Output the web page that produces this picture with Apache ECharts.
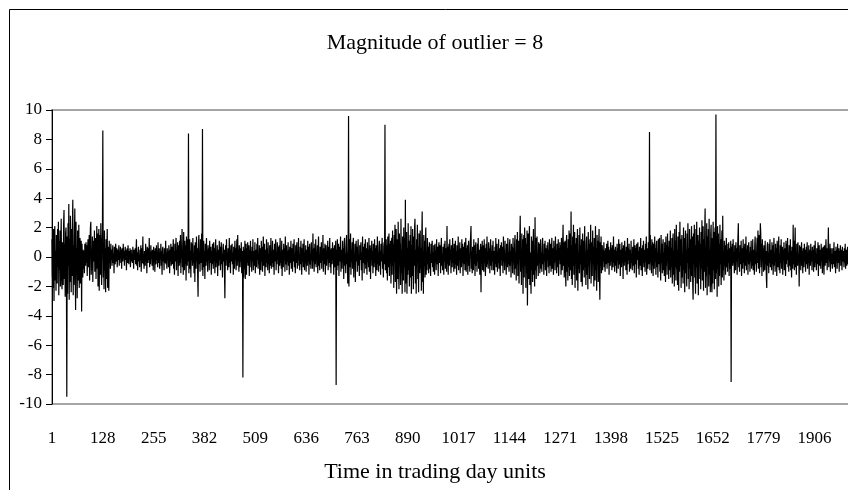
<!DOCTYPE html>
<html><head><meta charset="utf-8">
<script src="https://cdn.jsdelivr.net/npm/echarts@6/dist/echarts.min.js"></script>
<style>html,body{margin:0;padding:0;background:#fff;overflow:hidden;width:848px;height:490px}#c{width:880px;height:490px}</style>
</head><body><div id="c"></div>
<script>
const chartTitle = "Magnitude of outlier = 8";
const xAxisTitle = "Time in trading day units";
const yTicks = [-10, -8, -6, -4, -2, 0, 2, 4, 6, 8, 10];
const labelStep = 127;
const categoryCount = 2010;
const seriesValues = [
1.2,-1.4,0.6,-2.1,1.9,-3.0,0.8,2.1,-1.6,0.4, -2.3,1.5,0.2,-1.8,1.9,-0.7,2.4,-2.6,1.1,-0.9, 1.8,-2.0,0.5,2.6,-1.4,-2.2,1.0,0.7,-1.9,2.2, 3.2,-1.5,0.9,-2.7,1.6,2.0,-1.1,-9.5,1.4,-2.5, 2.3,-0.6,3.6,-2.9,1.2,-1.7,2.8,0.3,-2.4,1.9,
-1.3,2.1,3.9,-2.6,0.8,-1.9,1.5,3.3,-0.9,-3.6, 2.4,-1.2,0.6,-2.8,1.8,-0.4,-1.6,2.2,-2.1,0.7, 1.3,-1.8,-0.5,1.1,-3.7,0.9,-0.3,-1.4,0.5,-0.8, 0.4,-1.1,0.9,0.2,-0.6,1.0,-0.4,0.8,-1.3,0.6, 1.2,-0.7,0.3,1.5,-1.6,0.9,2.0,2.4,-1.2,0.5,
-0.9,1.4,-1.7,0.6,1.1,-0.3,1.8,-1.0,0.4,1.3, -1.5,0.7,2.1,-0.8,1.6,-2.0,0.5,1.9,-2.3,0.8, 1.5,-1.2,2.3,-0.6,-1.9,0.9,1.7,8.6,-1.4,0.3, -2.2,1.8,-0.9,0.6,-2.4,1.2,-1.5,0.4,1.9,-2.1, 0.7,-1.3,-2.3,1.1,-0.4,0.6,-0.8,0.9,-0.2,0.5,
-0.6,0.3,0.8,-0.4,0.2,-1.1,0.7,0.1,-0.5,0.9, 0.4,-0.3,0.6,-0.7,0.2,0.5,-0.2,0.8,-0.6,0.3, 0.1,0.7,-0.4,0.5,-0.8,0.6,0.2,-0.3,0.9,-0.1, 0.4,-0.6,0.3,0.7,-0.2,0.5,-0.9,0.1,0.6,-0.4, 0.8,0.2,-0.5,0.4,-0.1,0.6,-0.7,0.3,0.5,-0.3,
0.2,-0.4,0.7,0.1,-0.8,0.5,0.3,-0.2,0.6,-0.5, 0.4,1.2,-0.6,0.3,-0.9,0.2,0.7,-0.3,0.1,-0.7, 0.5,-0.2,0.8,-1.0,0.3,0.6,-0.4,1.4,-0.5,0.2, -0.8,0.4,0.1,-0.6,0.9,-0.3,0.5,-1.1,0.7,0.2, -0.4,0.6,-0.2,1.3,-0.7,0.3,-0.5,0.8,-0.1,0.4,
-0.6,0.5,0.2,-0.9,0.7,-0.3,0.4,-1.0,0.6,0.1, -0.5,0.8,-0.2,0.3,-0.7,1.0,-0.4,0.2,0.6,-0.8, 0.3,-0.1,0.9,-0.6,0.4,-1.2,0.5,0.7,-0.3,0.2, -0.9,0.6,0.1,-0.4,1.1,-0.5,0.3,-0.8,0.6,-0.2, 0.4,-0.7,0.8,0.2,-1.1,0.5,-0.3,0.9,-0.6,0.3,
0.7,-0.5,0.2,1.2,-0.8,0.4,-1.2,0.9,-0.3,0.6, 1.3,-0.9,0.5,-0.2,1.0,-1.3,0.3,0.8,-0.6,1.1, -0.4,1.5,-1.1,0.6,0.2,1.9,-0.7,0.4,-1.2,1.7, 0.3,-0.9,1.1,-0.5,0.8,-1.6,1.4,0.2,-0.6,1.2, -0.3,8.4,-1.1,0.6,1.2,-0.8,0.4,-1.4,1.0,-0.2,
0.9,-0.6,1.3,-0.4,0.2,-1.1,0.8,-1.7,1.0,0.5, -0.8,1.4,-0.3,0.6,-1.2,-2.7,0.9,1.5,-0.5,0.3, -1.0,1.2,-0.4,0.7,1.6,-0.9,8.7,-1.3,0.6,1.1, -0.7,0.4,-1.5,0.9,0.2,-0.6,1.3,-0.3,0.5,-1.0, 0.8,-0.2,0.6,-0.9,1.1,-0.4,0.3,0.7,-1.2,0.4,
-0.5,0.9,0.2,-0.8,1.0,-0.3,0.6,-1.1,0.4,1.2, -0.7,0.3,-0.4,0.8,-1.3,0.5,0.1,-0.6,1.1,-0.2, 0.7,-0.9,0.4,1.0,-0.5,0.2,-1.4,0.6,0.9,-0.3, 0.5,-1.0,-2.8,0.4,0.8,-0.6,1.2,-0.2,0.3,-0.9, 0.6,0.1,-0.7,1.3,-0.4,0.5,-1.1,0.8,-0.3,0.2,
0.9,-0.5,0.3,-1.2,0.7,0.4,-0.8,1.1,-0.2,0.6, -0.9,0.3,1.2,-0.6,1.5,-0.3,0.5,-1.0,0.8,0.2, -0.7,0.6,-0.3,1.0,-1.1,0.4,0.2,-8.2,0.7,-1.4, 0.5,-0.8,1.1,-1.5,0.3,0.9,-1.2,0.6,-0.4,1.0, -0.6,0.2,0.8,-1.3,0.5,-0.2,1.1,-0.7,0.4,-1.0,
0.7,-0.3,1.2,-0.9,0.4,0.1,-0.6,1.0,-1.1,0.5, 0.3,-0.7,0.9,-0.2,1.3,-0.8,0.2,-0.5,0.8,-1.2, 0.6,0.4,-0.9,1.1,-0.3,0.7,-1.0,0.2,1.4,-0.6, -0.2,0.9,-1.3,0.5,0.3,-0.7,1.2,-0.4,0.6,-0.9, 1.0,-0.5,0.2,-1.1,0.8,0.4,-0.6,1.3,-0.8,0.1,
-0.4,1.1,-0.7,0.5,0.2,-1.2,0.9,-0.3,0.6,1.2, -0.9,0.3,-0.5,1.0,-0.2,0.7,-1.1,0.4,0.8,-0.6, 1.3,-0.4,0.2,-0.8,1.1,-1.3,0.5,0.3,-0.7,0.9, -0.2,0.6,-1.0,1.4,-0.5,0.1,0.8,-0.9,0.4,-0.3, 1.0,-0.6,0.5,-1.2,0.7,0.3,-0.4,1.1,-0.8,0.2,
0.6,-1.0,0.9,-0.3,0.4,1.2,-0.7,0.2,-1.1,0.8, -0.4,0.5,1.0,-0.8,0.3,-0.2,1.3,-0.6,0.1,-0.9, 0.7,-0.5,1.1,0.2,-1.2,0.6,-0.3,0.9,-0.7,0.4, 1.2,-0.9,0.3,-0.4,0.8,-1.0,0.5,0.2,-0.6,1.1, -0.3,0.7,-1.2,0.4,0.9,-0.5,0.1,-0.8,1.0,-0.2,
0.5,-0.8,1.6,-0.3,0.6,-1.0,0.2,0.9,-0.5,1.2, -0.7,0.3,-0.2,0.8,-1.1,0.4,1.4,-0.6,0.1,-0.9, 0.7,0.3,-0.4,1.0,-0.8,0.5,-0.2,1.5,-1.0,0.2, 0.6,-0.5,0.9,-1.2,0.3,0.8,-0.6,0.4,-0.1,1.1, -0.9,0.2,0.7,-0.4,1.3,-0.7,0.5,-1.1,0.6,0.3,
-0.5,1.0,-0.2,0.6,-1.2,0.4,0.8,-0.7,0.3,1.1, -8.7,0.5,-0.9,1.2,0.2,-0.6,0.9,-1.3,0.4,0.7, -0.3,1.4,-1.0,0.5,0.1,-0.8,1.1,-0.4,0.6,-1.5, 0.9,1.3,-0.6,0.2,-1.1,0.7,1.5,-0.5,0.3,-1.8, 0.8,9.6,-2.0,1.2,-0.7,0.4,1.6,-1.2,0.5,-0.3,
1.0,-0.8,0.6,1.3,-1.4,0.2,-0.5,0.9,-1.7,0.4, 1.1,-0.3,0.7,-1.0,0.5,1.2,-0.6,0.1,-1.3,0.8, -0.2,0.6,1.0,-0.9,0.3,-1.6,1.4,-0.4,0.7,0.2, -1.1,0.9,-0.5,1.2,-0.8,0.4,0.6,-1.2,1.0,-0.3, 0.5,-0.7,1.3,-1.0,0.2,0.8,-1.5,0.6,-0.1,1.1,
-0.6,0.4,-1.1,0.9,0.3,-0.7,1.2,-0.4,0.6,-1.3, 0.8,0.2,-0.9,1.4,-0.5,0.3,-1.0,0.7,1.1,-0.6, 0.4,-1.2,0.9,-0.3,0.6,1.3,-0.8,0.2,-1.4,0.7, 1.0,-0.5,9.0,-0.9,0.5,1.2,-1.1,0.8,-1.6,1.4, -0.7,0.4,1.6,-1.3,0.9,-0.4,1.1,-1.8,0.6,1.3,
-1.2,1.8,-0.6,0.9,-2.1,1.5,-0.3,2.2,-1.7,0.7, 1.9,-2.5,0.4,1.2,-1.5,2.4,-0.8,-2.2,1.6,-0.4, 0.9,-1.9,2.6,-1.1,0.5,-2.5,1.4,0.2,-1.6,2.0, -0.7,1.3,-2.4,3.9,-1.8,0.8,1.7,-2.5,0.6,-1.2, 2.3,-0.9,1.1,-2.0,0.4,1.5,-1.4,2.1,-2.5,0.8,
-1.3,1.9,0.3,-2.2,1.4,-0.6,2.0,2.6,-1.8,0.5, -2.5,1.2,-0.4,2.2,-1.5,0.7,-2.4,1.6,0.2,-1.1, 1.8,-0.8,0.6,-2.3,1.3,3.1,-1.7,0.4,-2.5,1.5, -0.6,1.1,-1.4,0.8,2.0,-1.2,0.3,-0.9,1.3,-0.5, 0.7,-1.1,0.4,1.0,-0.8,0.2,-1.3,0.9,-0.4,0.6,
1.1,-0.7,0.3,-1.0,0.8,0.5,-1.2,0.9,-0.3,0.4, -0.9,1.2,-0.5,0.2,0.7,-1.3,0.6,1.0,-0.4,0.1, 0.8,-1.1,0.5,1.3,-0.6,0.2,-0.9,0.7,0.4,-1.2, 0.9,-0.3,1.1,-0.8,0.3,0.6,-1.0,2.1,-0.5,0.7, -1.2,0.4,0.9,-0.6,1.2,-0.2,0.5,-1.1,0.8,0.3,
-0.7,1.3,-0.4,0.6,-1.0,0.9,0.2,-0.8,1.1,-0.5, 0.4,-1.2,0.8,0.3,-0.6,1.4,-0.9,0.5,-0.2,1.0, -1.1,0.6,0.2,-0.7,1.2,-0.4,0.9,-1.3,0.3,0.7, -0.5,1.0,-0.9,0.4,1.3,-1.0,0.6,-0.3,0.8,-1.2, 0.5,1.1,-0.6,0.2,-1.0,0.9,1.4,2.1,-0.8,0.4,
-1.1,0.7,0.3,-0.9,1.2,-0.5,0.8,-1.3,0.4,1.0, -0.6,0.2,-1.0,0.9,-0.3,1.3,-0.8,0.5,0.6,-1.2, 0.4,0.9,-2.4,0.7,-0.5,1.1,-0.9,0.3,0.8,-1.0, 1.2,-0.4,0.6,-1.3,0.2,0.9,-0.7,1.4,-0.5,0.3, -0.8,1.0,-0.2,0.6,-1.1,0.5,1.2,-0.6,0.4,-0.9,
0.8,-0.3,1.1,-0.9,0.4,0.2,-1.2,0.7,-0.5,1.3, -0.7,0.5,0.9,-1.0,0.3,-0.4,1.2,-0.8,0.6,0.1, -1.3,0.8,-0.2,1.0,-0.6,0.4,0.7,-1.1,1.4,-0.3, 0.5,-0.9,1.1,-0.4,0.2,-1.2,0.9,0.6,-0.7,1.3, -0.5,0.3,-1.0,0.8,1.2,-0.6,0.4,-1.4,0.9,-0.2,
0.7,-1.1,1.3,-0.4,0.6,-1.2,0.9,1.5,-0.8,0.3, -1.6,1.2,-0.5,1.7,-1.3,0.4,1.1,-1.8,0.6,1.4, 2.8,-1.0,0.5,-1.9,1.6,-0.7,1.2,-2.5,0.8,1.5, -1.4,2.0,-0.6,1.3,-2.1,0.9,-1.1,1.8,-3.3,0.4, 1.6,-1.5,0.7,2.1,-1.9,0.3,-0.8,-2.5,1.4,-0.9,
1.1,-1.7,0.6,1.9,-1.2,0.4,-2.0,2.7,-0.9,1.3, -1.5,0.8,1.4,-0.6,0.2,-1.3,1.0,-0.4,0.9,-1.1, 0.5,1.2,-0.8,0.3,-1.0,0.7,1.3,-0.5,0.2,-1.2, 0.9,-0.3,1.1,-0.9,0.4,0.6,-1.3,0.8,-0.2,1.0, -0.7,0.5,-1.1,1.2,0.3,-0.6,0.9,-1.0,0.4,1.3,
-0.8,0.6,0.2,-1.2,1.1,-0.4,0.7,-0.9,1.4,-0.3, 0.5,-1.1,0.9,0.3,-0.7,1.2,-1.3,0.6,-0.2,1.0, -0.5,0.8,-1.2,1.3,0.4,-0.9,0.7,2.2,-0.6,1.0, -1.4,0.5,1.1,-0.8,-2.0,0.9,1.5,-1.0,0.6,-1.6, 1.2,-0.7,1.8,-1.3,0.4,1.6,-0.9,3.1,-1.5,0.8,
-1.9,1.4,-0.6,2.2,-1.2,0.5,1.7,-2.1,0.9,-0.4, 1.3,-1.6,0.7,1.9,-2.3,0.3,-0.8,1.5,-1.1,2.0, -0.5,0.8,-1.7,1.2,0.4,-2.0,1.6,-0.9,0.6,1.1, -1.4,2.1,-0.7,0.3,-1.9,1.0,1.4,-1.2,0.5,-2.2, 1.7,-0.6,0.9,-1.5,1.2,-0.3,2.2,-1.8,0.4,1.0,
-1.3,1.8,-0.5,0.7,-2.0,1.3,0.2,-1.6,2.1,-0.9, 0.6,-2.3,1.5,-0.4,1.1,-1.7,0.8,1.9,-1.2,-2.9, 1.0,-0.6,1.4,-1.1,0.3,0.8,-0.9,0.5,-0.3,1.0, -0.7,0.4,-1.0,0.6,0.2,-0.5,0.9,-0.8,0.3,1.1, -0.4,0.7,-1.2,0.5,0.1,-0.6,1.0,-0.3,0.6,-0.9,
0.8,0.2,-0.7,1.4,-0.4,0.5,-1.0,0.3,0.7,-0.6, 0.4,-1.1,0.9,-0.2,0.6,-0.8,1.2,-0.5,0.1,0.9, -1.3,0.5,0.3,-0.7,1.0,-0.4,0.6,-1.5,0.8,0.2, -0.6,1.1,-0.3,0.4,-0.9,0.7,0.2,-1.2,1.3,-0.5, 0.6,-0.2,0.9,-1.0,0.3,0.5,-0.8,1.1,-0.4,0.2,
-0.9,0.7,0.4,-0.6,1.2,-1.1,0.3,0.8,-0.5,0.6, -1.4,0.9,-0.2,0.5,1.0,-0.8,0.4,-1.2,0.7,0.1, -0.6,1.3,-0.9,0.2,0.6,-1.3,0.8,-0.4,1.1,-0.7, 0.5,0.3,-1.0,0.9,-0.3,1.4,-1.2,0.6,0.2,-0.8, 1.0,-0.5,0.7,8.5,-0.9,1.5,-0.4,0.8,-1.1,1.2,
-0.6,1.0,-1.3,0.4,0.9,-0.8,1.4,-0.3,0.6,-1.2, 0.8,1.1,-0.7,0.3,-1.4,1.2,-0.5,0.7,1.3,-1.0, 0.2,-1.6,1.5,-0.4,0.9,-1.1,0.6,1.2,-0.9,0.3, -1.3,1.0,0.5,-1.7,1.4,-0.6,0.8,-1.2,1.6,-0.3, 0.7,-1.5,1.1,0.4,-0.9,1.8,-1.4,0.6,-0.7,1.3,
-1.8,0.9,1.6,-1.2,0.4,-2.0,1.9,-0.7,1.1,-1.6, 2.2,-0.8,0.5,-1.9,1.4,0.3,-2.3,1.7,-1.0,2.4, -0.6,1.2,-2.1,0.8,1.5,-1.4,0.2,-1.8,2.0,-0.9, 1.3,-2.4,0.7,1.8,-1.1,0.5,-2.0,1.6,-0.4,2.3, -1.5,0.6,-2.2,1.9,-0.8,1.2,-1.7,0.4,2.1,-1.3,
1.4,-1.9,-2.9,1.6,-0.5,2.2,-1.4,0.8,-2.5,1.9, -0.7,2.4,-1.8,0.6,1.5,-2.6,1.1,-0.4,2.0,-1.5, 0.9,-2.2,1.7,-0.8,2.5,-1.6,0.4,2.1,-2.3,1.2, -1.0,1.8,3.3,-2.1,0.7,-1.3,2.3,-2.6,1.4,-0.6, 1.9,-2.0,2.6,-1.2,0.5,-2.4,1.6,2.2,-1.7,-2.4,
1.3,-1.8,2.4,-0.9,1.7,-2.2,0.6,2.0,-1.5,9.7, -1.1,1.4,-2.7,2.1,-0.8,1.6,-2.0,0.9,-1.3,2.2, -0.5,1.2,-1.9,0.7,1.8,-1.4,2.8,-0.9,0.4,-1.6, 1.1,-0.6,0.8,-1.2,0.3,1.3,-0.7,0.5,-1.0,0.9, -0.4,1.0,-1.3,0.6,0.2,-0.8,1.1,-8.5,0.7,-0.3,
0.9,-0.6,1.2,-0.4,0.3,-1.1,0.8,0.5,-0.9,1.0, -0.3,0.6,-1.2,0.4,1.3,2.3,-0.7,0.2,-1.0,0.8, 0.4,-0.5,1.1,-1.3,0.6,0.2,-0.8,1.2,-0.4,0.7, -1.1,0.9,0.3,-0.6,1.4,-0.9,0.5,-0.2,0.8,-1.2, 0.6,1.0,-0.5,0.3,-1.0,0.7,-0.3,1.1,-0.8,0.4,
-0.6,1.2,-0.9,0.5,0.2,-1.2,0.8,1.4,-0.5,0.3, -1.0,0.7,1.3,-0.4,1.8,-0.8,0.6,1.5,-1.1,0.4, 2.3,1.6,-0.7,0.9,-1.3,1.2,-0.3,0.6,-1.0,0.8, 0.2,-0.9,1.1,-0.5,0.4,-1.4,-2.1,0.7,1.0,-0.6, 0.3,-1.1,0.9,-0.4,1.2,-0.7,0.5,0.1,-0.9,1.0,
-0.5,0.8,-1.2,0.4,1.3,-0.6,0.2,-1.0,0.9,-0.3, 0.6,-1.3,1.1,0.3,-0.7,0.5,1.4,-0.9,0.2,-1.1, 0.8,-0.4,1.2,-0.8,0.3,0.7,-1.2,0.5,-0.2,1.0, -0.9,0.4,0.6,-1.3,1.1,-0.5,0.9,-0.2,1.3,-0.7, 0.3,-1.0,0.8,0.5,-0.6,1.2,-0.9,0.4,-1.4,0.7,
0.6,-0.8,2.2,-0.5,1.1,-0.9,0.4,2.0,-0.7,0.3, -1.2,0.9,0.5,-0.6,1.0,-0.3,0.2,-2.0,0.8,-0.4, 0.7,-0.9,0.3,1.0,-0.6,0.4,-1.1,0.6,0.2,-0.7, 0.9,-0.3,0.5,-1.0,0.2,0.7,-0.5,1.0,-0.8,0.3, -0.4,0.8,-1.2,0.5,0.1,-0.6,0.9,-0.3,0.4,-0.9,
0.7,-0.2,0.5,-1.0,0.8,0.3,-0.7,1.1,-0.4,0.2, -0.9,0.6,0.4,-0.5,1.0,-1.3,0.3,0.8,-0.6,0.2, 0.5,-0.8,0.9,-0.3,0.6,-1.1,0.4,0.7,-0.2,-1.2, 0.8,0.3,-0.6,0.5,1.2,-0.4,0.6,-0.9,0.2,0.4, 2.0,-0.7,0.5,-0.3,0.9,-1.0,0.3,0.6,-0.5,0.2,
-0.8,0.6,0.3,-0.5,1.0,-0.7,0.4,0.2,-1.1,0.7, -0.3,0.5,-0.8,0.9,-0.4,0.2,0.6,-1.0,0.4,-0.2, 0.8,-0.6,0.3,0.5,-0.9,0.7,-0.3,0.4,0.1,-0.7, 0.6,-0.4,0.9,-0.8,0.2,0.5,-0.6,0.3,0.7,-0.5, 0.4,-0.2,0.8,-0.7,0.3,0.1,-0.5,0.6,-0.3,0.2
];
const categories = Array.from({length: categoryCount}, (_, i) => String(i + 1));

const serif = '"Liberation Serif", "Times New Roman", serif';
const chart = echarts.init(document.getElementById('c'), null, {renderer: 'canvas'});
chart.setOption({
  animation: false,
  backgroundColor: '#fff',
  graphic: [
    {type: 'rect', shape: {x: 9.5, y: 9.5, width: 900, height: 600}, style: {fill: 'none', stroke: '#000', lineWidth: 1}, z: 0},
    {type: 'text', x: 435, y: 43, style: {text: chartTitle, font: '22px ' + serif, fill: '#000', textAlign: 'center', textVerticalAlign: 'middle'}},
    {type: 'text', x: 435, y: 472, style: {text: xAxisTitle, font: '22px ' + serif, fill: '#000', textAlign: 'center', textVerticalAlign: 'middle'}}
  ],
  grid: {left: 52, top: 110, width: 804, height: 294, show: true, borderColor: '#888', borderWidth: 1.5, backgroundColor: 'transparent'},
  xAxis: {
    type: 'category', data: categories, boundaryGap: false,
    axisLine: {show: false}, axisTick: {show: false}, splitLine: {show: false},
    axisLabel: {interval: (idx) => idx % labelStep === 0 && idx < seriesValues.length - 50,
      margin: 26, color: '#000', fontFamily: serif, fontSize: 17}
  },
  yAxis: {
    type: 'value', min: yTicks[0], max: yTicks[yTicks.length - 1], interval: 2,
    axisLine: {show: true, lineStyle: {color: '#000', width: 1}},
    axisTick: {show: true, length: 6, lineStyle: {color: '#000'}},
    splitLine: {show: false},
    axisLabel: {margin: 10, color: '#000', fontFamily: serif, fontSize: 17}
  },
  series: [{
    type: 'line', data: seriesValues, showSymbol: false, symbol: 'none', sampling: null,
    lineStyle: {color: '#000', width: 1.2},
    markLine: {silent: true, symbol: ['none', 'none'], label: {show: false},
      lineStyle: {color: '#000', width: 1, type: 'solid'}, data: [{yAxis: 0}]}
  }]
});
</script></body></html>
